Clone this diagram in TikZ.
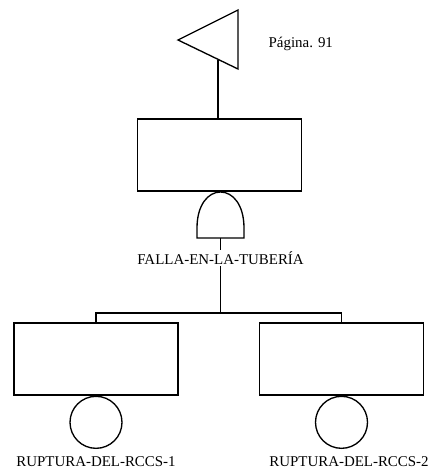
\documentclass[tikz,border=0pt]{standalone}
\usepackage{fontspec}
\setmainfont{Liberation Serif}

\tikzset{every picture/.style={line width=1pt}}
\tikzset{
  evbox/.style={draw, rectangle, minimum width=123pt, minimum height=54pt, inner sep=0pt},
  basic/.style={draw, circle, minimum size=39pt, inner sep=0pt},
  evlabel/.style={inner sep=0.75pt, font=\fontsize{11.2}{13}\selectfont}
}

\begin{document}
\begin{tikzpicture}[x=0.75pt,y=0.75pt,yscale=-1,xscale=1]
		\useasboundingbox (0,0) rectangle (428,470);

		%Shape: Transfer triangle
		\draw   (178,40) -- (238,10) -- (238,69) -- cycle ;
		\coordinate (trib) at (218,60) ;
		% Text Node
		\node [evlabel, anchor=west] (page) at (267,44) {Página. 91};

		%Shape: Top event
		\node [evbox] (top) at (219.5,155) {};
		\draw (trib) -- (trib |- top.north) ;

		%Shape: AND gate
		\coordinate (gtop) at (220.5,192) ;
		\coordinate (gbot) at (220.5,238) ;
		\draw   (197,238) -- (197,228) .. controls (197,205) and (208,192) .. (gtop) .. controls (233,192) and (244,205) .. (244,228) -- (244,238) -- cycle ;

		% Text Node
		\node [evlabel] (falla) at (220.5,258) {FALLA-EN-LA-TUBERÍA};
		\draw (gbot) -- (falla.north) ;

		%Shape: Lower events
		\node [evbox] (ev1) at (96,359) {};
		\node [evbox] (ev2) at (341.5,359) {};
		\coordinate (bar) at (220.5,313) ;
		\draw (falla.south) -- (bar) ;
		\draw (ev1.north) |- (bar) -| (ev2.north) ;

		%Shape: Basic events
		\node [basic, anchor=north] (c1) at (ev1.south) {};
		\node [basic, anchor=north] (c2) at (ev2.south) {};

		% Text Node
		\node [evlabel] (r1) at (96,462) {RUPTURA-DEL-RCCS-1};
		% Text Node
		\node [evlabel] (r2) at (349,462) {RUPTURA-DEL-RCCS-2};

	\end{tikzpicture}
\end{document}
